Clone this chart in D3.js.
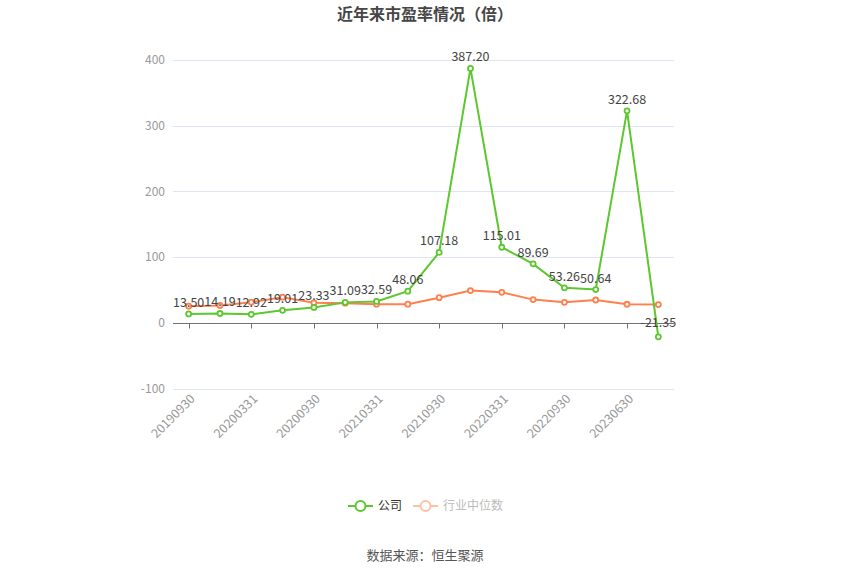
<!DOCTYPE html>
<html><head><meta charset="utf-8">
<script src="https://cdn.jsdelivr.net/npm/d3@7"></script>
<style>body{margin:0;background:#fff;font-family:"Noto Sans CJK SC","Noto Sans",sans-serif;}</style>
</head><body><svg id="c" width="850" height="575"></svg>
<script>
const categories = ["20190930","20191231","20200331","20200630","20200930","20201231","20210331","20210630","20210930","20211231","20220331","20220630","20220930","20221231","20230630","20230930"];
const companyPE = [13.50,14.19,12.92,19.01,23.33,31.09,32.59,48.06,107.18,387.20,115.01,89.69,53.26,50.64,322.68,-21.35];
const industryPE = [25.3,26.3,31.4,39.0,30.4,29.9,28.4,28.4,38.2,49.0,46.4,35.3,31.2,34.7,28.2,27.7];
const yTicks = [-100,0,100,200,300,400];
const seriesNames = ["公司","行业中位数"];

const svg = d3.select("#c");
const font = '"Noto Sans CJK SC","Noto Sans",sans-serif';
const green = "#5cc72e", orange = "#ff7f4d";

const x = d3.scaleBand().domain(categories).range([173, 674]);
const cx = d => x(d) + x.bandwidth()/2;
const y = d3.scaleLinear().domain([-100, 400]).range([388.5, 60]);

svg.append("text").attr("x",425).attr("y",20).attr("text-anchor","middle")
  .attr("font-family",font).attr("font-size",16).attr("font-weight","bold").attr("fill","#464646")
  .text("近年来市盈率情况（倍）");

// grid
svg.append("g").selectAll("line").data(yTicks.filter(t=>t!==0)).join("line")
  .attr("x1",173).attr("x2",674).attr("y1",d=>Math.round(y(d))+0.5).attr("y2",d=>Math.round(y(d))+0.5)
  .attr("stroke","#e0e6f1").attr("stroke-width",1);
// y labels
svg.append("g").selectAll("text").data(yTicks).join("text")
  .attr("x",165).attr("y",d=>y(d)).attr("dy","0.35em").attr("text-anchor","end")
  .attr("font-family",font).attr("font-size",12).attr("fill","#999").text(d=>d);
// x axis
const y0 = Math.round(y(0))+0.5;
svg.append("line").attr("x1",173).attr("x2",674).attr("y1",y0).attr("y2",y0).attr("stroke","#6e7079");
const labeled = categories.filter((d,i)=>i%2===0);
svg.append("g").selectAll("line").data(labeled).join("line")
  .attr("x1",d=>Math.round(cx(d))+0.5).attr("x2",d=>Math.round(cx(d))+0.5).attr("y1",y0).attr("y2",y0+5)
  .attr("stroke","#6e7079");
svg.append("g").selectAll("text").data(labeled).join("text")
  .attr("transform",d=>`translate(${cx(d)+4},${y0+73}) rotate(-45)`)
  .attr("text-anchor","end").attr("dy","0.35em")
  .attr("font-family",font).attr("font-size",12.5).attr("fill","#999").text(d=>d);

function drawSeries(vals, color){
  const line = d3.line().x((d,i)=>cx(categories[i])).y(d=>y(d));
  svg.append("path").datum(vals).attr("d",line).attr("fill","none").attr("stroke",color).attr("stroke-width",2);
  svg.append("g").selectAll("circle").data(vals).join("circle")
    .attr("cx",(d,i)=>cx(categories[i])).attr("cy",d=>y(d)).attr("r",2.5)
    .attr("fill","#fff").attr("stroke",color).attr("stroke-width",1.8);
}
drawSeries(industryPE, orange);
drawSeries(companyPE, green);
svg.append("g").selectAll("text").data(companyPE).join("text")
  .attr("x",(d,i)=>cx(categories[i])).attr("y",d=>d<0 ? y(d)-10 : y(d)-7).attr("text-anchor","middle")
  .attr("font-family",font).attr("font-size",12.5).attr("fill","#444")
  .text(d=>d.toFixed(2));

// legend
const lg = svg.append("g");
lg.append("line").attr("x1",348).attr("x2",373).attr("y1",506).attr("y2",506).attr("stroke",green).attr("stroke-width",2);
lg.append("circle").attr("cx",360.5).attr("cy",506).attr("r",5).attr("fill","#fff").attr("stroke",green).attr("stroke-width",2);
lg.append("text").attr("x",378).attr("y",506).attr("dy","0.35em").attr("font-family",font).attr("font-size",12).attr("fill","#333").text(seriesNames[0]);
lg.append("line").attr("x1",413).attr("x2",438).attr("y1",506).attr("y2",506).attr("stroke","#ffc1a6").attr("stroke-width",2);
lg.append("circle").attr("cx",425.5).attr("cy",506).attr("r",5).attr("fill","#fff").attr("stroke","#ffc1a6").attr("stroke-width",2);
lg.append("text").attr("x",443).attr("y",506).attr("dy","0.35em").attr("font-family",font).attr("font-size",12).attr("fill","#bbb").text(seriesNames[1]);

svg.append("text").attr("x",425).attr("y",555).attr("dy","0.35em").attr("text-anchor","middle")
  .attr("font-family",font).attr("font-size",13).attr("fill","#555").text("数据来源：恒生聚源");
</script></body></html>
